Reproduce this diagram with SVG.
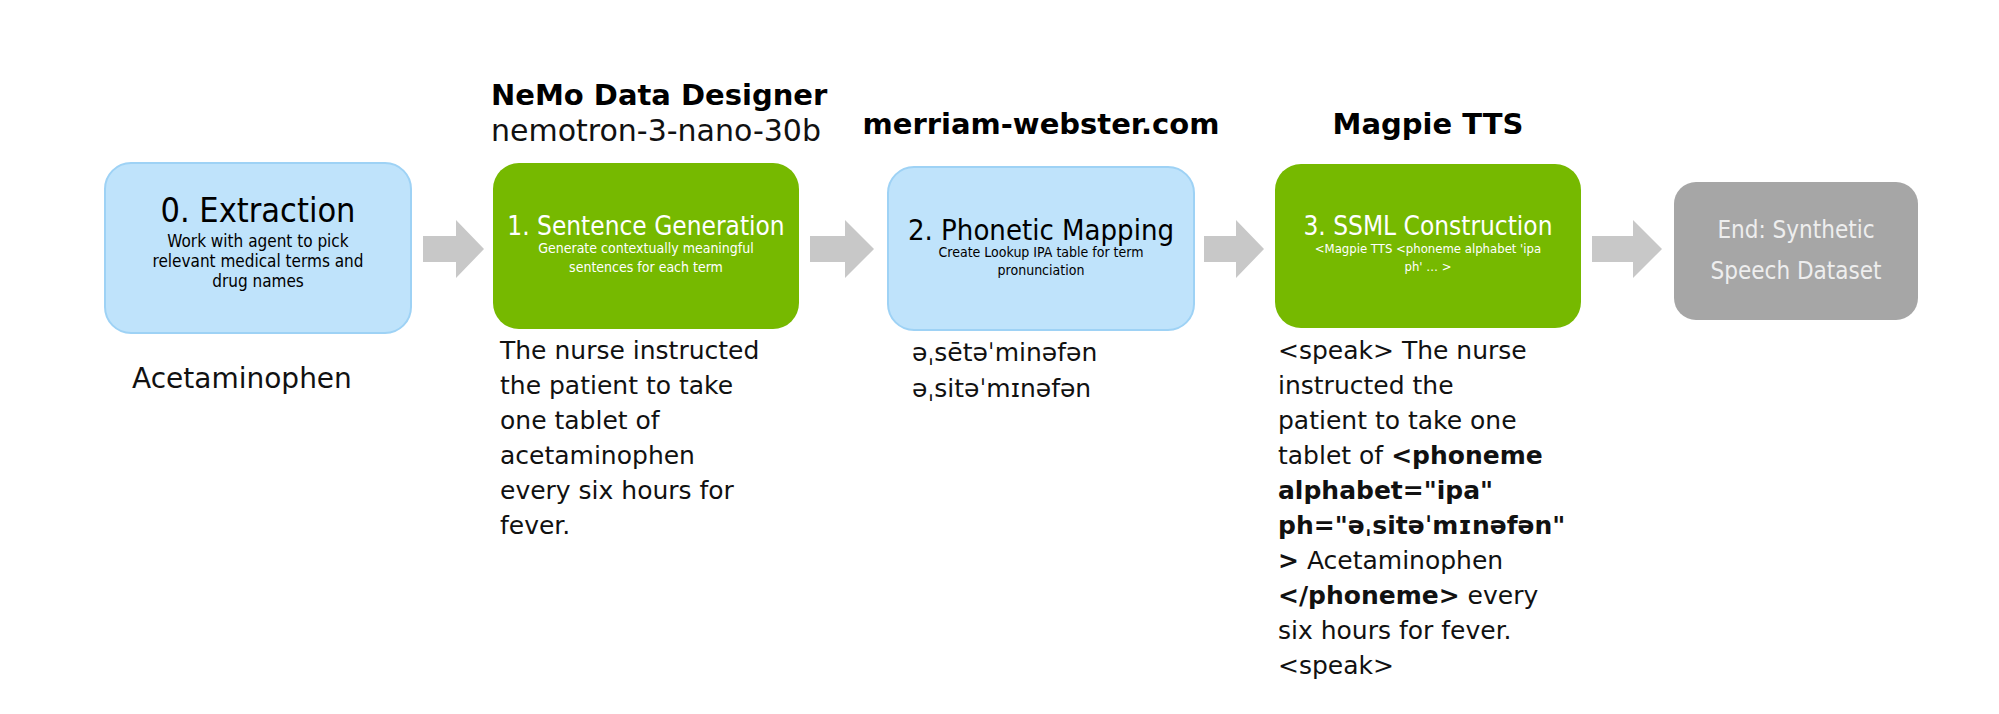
<svg xmlns="http://www.w3.org/2000/svg" width="1999" height="714" viewBox="0 0 1999 714">
<defs><style>
text{font-family:"DejaVu Sans","Liberation Sans",sans-serif;}
.c{font-family:"DejaVu Sans Condensed","DejaVu Sans",sans-serif;text-anchor:middle;}
.blue{fill:#bfe3fb;stroke:#9ed2f5;stroke-width:2;}
.green{fill:#76b900;}
.grey{fill:#a6a6a6;}
.arr{fill:#c8c8c8;}
.body{font-size:25px;fill:#111;}
.hd{font-weight:bold;font-size:29px;fill:#000;}
</style></defs>
<rect width="1999" height="714" fill="#fff"/>
<g id="connectors">
<polygon class="arr" points="423,236 456,236 456,220 484,249 456,278 456,262 423,262"/>
<polygon class="arr" points="810,236 845,236 845,220 874,249 845,278 845,262 810,262"/>
<polygon class="arr" points="1204,236 1236,236 1236,220 1264,249 1236,278 1236,262 1204,262"/>
<polygon class="arr" points="1592,236 1633,236 1633,220 1662,249 1633,278 1633,262 1592,262"/>
</g>
<g id="n0">
<rect class="blue" x="105" y="163" width="306" height="170" rx="26"/>
<text class="c" x="258" y="222" font-size="34">0. Extraction</text>
<text class="c" x="258" y="247" font-size="17">Work with agent to pick</text>
<text class="c" x="258" y="267" font-size="17">relevant medical terms and</text>
<text class="c" x="258" y="287" font-size="17">drug names</text>
<text x="132" y="388" font-size="28" fill="#111">Acetaminophen</text>
</g>
<g id="n1">
<text class="hd" x="491" y="105">NeMo Data Designer</text>
<text x="491" y="141" font-size="30" fill="#111">nemotron-3-nano-30b</text>
<rect class="green" x="493" y="163" width="306" height="166" rx="26"/>
<text class="c" x="646" y="235" font-size="26" fill="#fff">1. Sentence Generation</text>
<text class="c" x="646" y="253" font-size="14" fill="#fff">Generate contextually meaningful</text>
<text class="c" x="646" y="272" font-size="14" fill="#fff">sentences for each term</text>
<g class="body">
<text x="500" y="359">The nurse instructed</text>
<text x="500" y="394">the patient to take</text>
<text x="500" y="429">one tablet of</text>
<text x="500" y="464">acetaminophen</text>
<text x="500" y="499">every six hours for</text>
<text x="500" y="534">fever.</text>
</g>
</g>
<g id="n2">
<text class="hd" x="1041" y="134" text-anchor="middle" font-size="27">merriam-webster.com</text>
<rect class="blue" x="888" y="167" width="306" height="163" rx="26"/>
<text class="c" x="1041" y="240" font-size="29">2. Phonetic Mapping</text>
<text class="c" x="1041" y="257" font-size="14">Create Lookup IPA table for term</text>
<text class="c" x="1041" y="275" font-size="14">pronunciation</text>
<g class="body">
<text x="912" y="361">əˌsētəˈminəfən</text>
<text x="912" y="397">əˌsitəˈmɪnəfən</text>
</g>
</g>
<g id="n3">
<text class="hd" x="1428" y="134" text-anchor="middle" font-size="27">Magpie TTS</text>
<rect class="green" x="1275" y="164" width="306" height="164" rx="26"/>
<text class="c" x="1428" y="235" font-size="26" fill="#fff">3. SSML Construction</text>
<text class="c" x="1428" y="253" font-size="13" fill="#fff">&lt;Magpie TTS &lt;phoneme alphabet 'ipa</text>
<text class="c" x="1428" y="271" font-size="13" fill="#fff">ph' … &gt;</text>
<g class="body">
<text x="1278" y="359">&lt;speak&gt; The nurse</text>
<text x="1278" y="394">instructed the</text>
<text x="1278" y="429">patient to take one</text>
<text x="1278" y="464">tablet of <tspan font-weight="bold">&lt;phoneme</tspan></text>
<text x="1278" y="499" font-weight="bold">alphabet="ipa"</text>
<text x="1278" y="534" font-weight="bold">ph="əˌsitəˈmɪnəfən"</text>
<text x="1278" y="569"><tspan font-weight="bold">&gt;</tspan> Acetaminophen</text>
<text x="1278" y="604"><tspan font-weight="bold">&lt;/phoneme&gt;</tspan> every</text>
<text x="1278" y="639">six hours for fever.</text>
<text x="1278" y="674">&lt;speak&gt;</text>
</g>
</g>
<g id="n4">
<rect class="grey" x="1674" y="182" width="244" height="138" rx="22"/>
<text class="c" x="1796" y="238" font-size="24" fill="#eee">End: Synthetic</text>
<text class="c" x="1796" y="279" font-size="24" fill="#eee">Speech Dataset</text>
</g>
</svg>
